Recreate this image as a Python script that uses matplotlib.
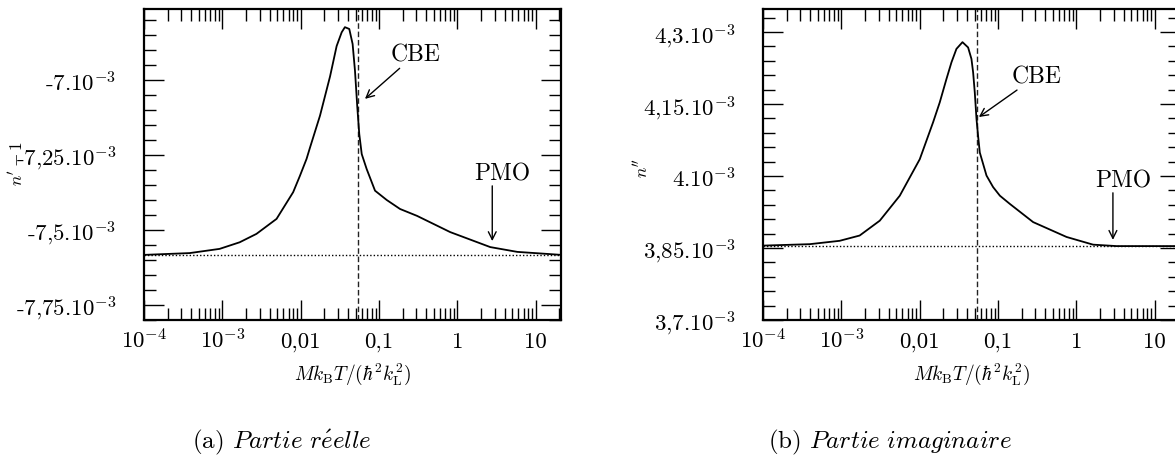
import matplotlib
matplotlib.use("Agg")
import matplotlib.pyplot as plt
import numpy as np
from matplotlib.ticker import FixedLocator, NullFormatter

plt.rcParams['font.family'] = 'cmr10'
plt.rcParams['mathtext.fontset'] = 'cm'
plt.rcParams['axes.formatter.use_mathtext'] = True

# abscisse : M kB T / (hbar^2 kL^2)
x_reel = [1e-4, 3.82e-4, 9.2e-4, 1.66e-3, 2.72e-3, 4.91e-3, 8.0e-3, 9.74e-3,
          0.01186, 0.01306, 0.0176, 0.02366, 0.0287, 0.0333, 0.0366, 0.0416,
          0.0459, 0.0492, 0.0527, 0.0558, 0.060, 0.0694, 0.0887, 0.125,
          0.185, 0.305, 0.807, 2.62, 5.8, 21.2]
# n' - 1 (en unites de 1e-3)
n_reel = [-7.583, -7.577, -7.563, -7.541, -7.513, -7.463, -7.374, -7.320,
          -7.263, -7.227, -7.119, -6.988, -6.887, -6.841, -6.824, -6.830,
          -6.880, -6.969, -7.091, -7.180, -7.247, -7.297, -7.369, -7.400,
          -7.430, -7.453, -7.507, -7.557, -7.573, -7.583]

x_imag = [1e-4, 3.94e-4, 9.5e-4, 1.71e-3, 3.09e-3, 5.56e-3, 0.01, 0.0148,
          0.018, 0.0219, 0.0254, 0.0294, 0.0351, 0.0414, 0.0457, 0.048,
          0.0504, 0.053, 0.0555, 0.0584, 0.0711, 0.0863, 0.1054, 0.141,
          0.28, 0.748, 1.63, 3.25, 21.0]
# n'' (en unites de 1e-3)
n_imag = [3.855, 3.858, 3.865, 3.876, 3.907, 3.959, 4.035, 4.112,
          4.1535, 4.202, 4.237, 4.265, 4.279, 4.268, 4.244, 4.216,
          4.174, 4.119, 4.084, 4.049, 4.001, 3.977, 3.959, 3.942,
          3.904, 3.873, 3.857, 3.854, 3.854]

x_cbe = 0.054
lim_reel = -7.583
lim_imag = 3.855

xticks = [1e-4, 1e-3, 1e-2, 1e-1, 1, 10]
xlabels = [r'10$^{-4}$', r'10$^{-3}$', '0,01', '0,1', '1', '10']

yticks_reel = [-7.75, -7.5, -7.25, -7.0]
ylabels_reel = [r'-7,75.10$^{-3}$', r'-7,5.10$^{-3}$', r'-7,25.10$^{-3}$', r'-7.10$^{-3}$']
yticks_imag = [3.7, 3.85, 4.0, 4.15, 4.3]
ylabels_imag = [r'3,7.10$^{-3}$', r'3,85.10$^{-3}$', r'4.10$^{-3}$',
                r'4,15.10$^{-3}$', r'4,3.10$^{-3}$']


def panneau(ax, x, y, lim, ylim, yticks, ylabels, yminor, ylabel, ylab_pos,
            cbe_txt, cbe_pt, pmo_txt, pmo_pt):
    x = np.array(x)
    y = np.array(y) * 1e-3
    ax.set_xscale('log')
    ax.set_xlim(1e-4, 21)
    ax.set_ylim(ylim[0] * 1e-3, ylim[1] * 1e-3)

    ax.plot(x, y, color='black', lw=1.3, zorder=3, solid_joinstyle='round')
    ax.axhline(lim * 1e-3, color='black', lw=1.0, ls=(0, (1, 1.5)))
    ax.axvline(x_cbe, color='#222222', lw=1.0, ls=(0, (4, 2)))

    ax.xaxis.set_major_locator(FixedLocator(xticks))
    ax.xaxis.set_minor_locator(FixedLocator(
        [m * 10.0 ** e for e in range(-4, 2) for m in range(2, 10)]))
    ax.xaxis.set_minor_formatter(NullFormatter())
    ax.set_xticks(xticks, xlabels)
    ax.set_yticks([v * 1e-3 for v in yticks], ylabels)
    ax.yaxis.set_minor_locator(FixedLocator([v * 1e-3 for v in yminor]))

    ax.tick_params(which='both', direction='in', top=True, right=True,
                   width=1.0, labelsize=16.5)
    ax.tick_params(which='major', length=14.5)
    ax.tick_params(which='minor', length=8.5)
    ax.tick_params(axis='y', pad=20)
    ax.tick_params(axis='x', pad=19.5)
    for lab in ax.get_xticklabels():
        lab.set_verticalalignment('baseline')
    for s in ax.spines.values():
        s.set_linewidth(1.6)

    ax.set_xlabel(r'$Mk_{\rm B}T/(\hbar^2k_{\rm L}^2)$', fontsize=14,
                  va='baseline')
    ax.xaxis.set_label_coords(0.5, -0.189)
    ax.set_ylabel(ylabel, fontsize=12.5)
    ax.yaxis.set_label_coords(*ylab_pos)

    fleche = dict(arrowstyle='->', lw=1.0, color='black', mutation_scale=14,
                  shrinkA=0, shrinkB=0)
    ax.annotate('CBE', xy=(cbe_pt[0], cbe_pt[1] * 1e-3),
                xytext=(cbe_txt[0], cbe_txt[1] * 1e-3),
                ha='center', va='center', fontsize=17, arrowprops=fleche)
    ax.annotate('', xy=(pmo_pt[0], pmo_pt[2] * 1e-3),
                xytext=(pmo_pt[0], pmo_pt[1] * 1e-3), arrowprops=fleche)
    ax.text(pmo_txt[0], pmo_txt[1] * 1e-3, 'PMO', ha='center', va='center',
            fontsize=17)


fig = plt.figure(figsize=(11.75, 4.6), dpi=100)
ax1 = fig.add_axes([0.1226, 0.3022, 0.3549, 0.677])
ax2 = fig.add_axes([0.6494, 0.3022, 0.3549, 0.677])

minor_reel = [round(-7.8 + 0.05 * i, 3) for i in range(0, 21)]
minor_imag = [round(3.7 + 0.03 * i, 3) for i in range(0, 22)]

panneau(ax1, x_reel, n_reel, lim_reel, (-7.8, -6.762), yticks_reel, ylabels_reel,
        minor_reel, r"$n'-1$", (-0.285, 0.507),
        cbe_txt=(0.29, -6.915), cbe_pt=(0.066, -7.063),
        pmo_txt=(3.7, -7.313), pmo_pt=(2.78, -7.353, -7.537))
panneau(ax2, x_imag, n_imag, lim_imag, (3.7, 4.349), yticks_imag, ylabels_imag,
        minor_imag, r"$n''$", (-0.271, 0.491),
        cbe_txt=(0.31, 4.208), cbe_pt=(0.0568, 4.123),
        pmo_txt=(3.9, 3.99), pmo_pt=(2.92, 3.965, 3.867))

fig.text(0.240, 0.026, r'(a) $\mathit{Partie\ r\acute{e}elle}$', ha='center',
         va='baseline', fontsize=18)
fig.text(0.757, 0.026, r'(b) $\mathit{Partie\ imaginaire}$', ha='center',
         va='baseline', fontsize=18)

fig.savefig('out.png', dpi=100)
